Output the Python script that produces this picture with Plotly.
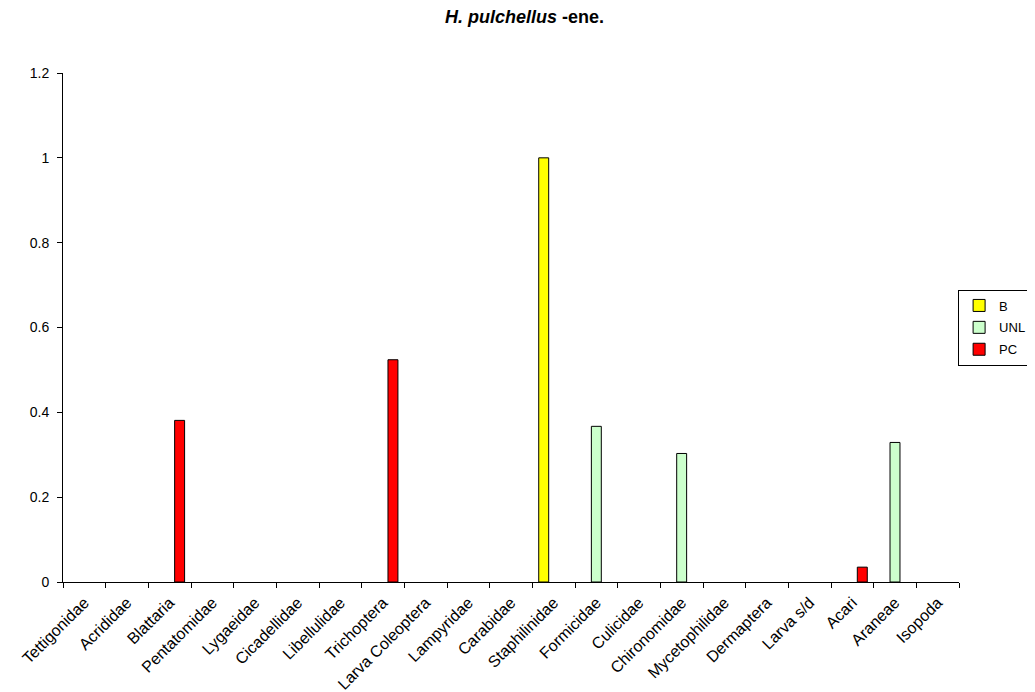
import plotly.graph_objects as go

categories = ["Tettigonidae", "Acrididae", "Blattaria", "Pentatomidae", "Lygaeidae",
              "Cicadellidae", "Libellulidae", "Trichoptera", "Larva Coleoptera", "Lampyridae",
              "Carabidae", "Staphilinidae", "Formicidae", "Culicidae", "Chironomidae",
              "Mycetophilidae", "Dermaptera", "Larva s/d", "Acari", "Araneae", "Isopoda"]

b_values = [0, 0, 0, 0, 0, 0, 0, 0, 0, 0, 0, 1.0, 0, 0, 0, 0, 0, 0, 0, 0, 0]
unl_values = [0, 0, 0, 0, 0, 0, 0, 0, 0, 0, 0, 0, 0.367, 0, 0.303, 0, 0, 0, 0, 0.329, 0]
pc_values = [0, 0, 0.381, 0, 0, 0, 0, 0.524, 0, 0, 0, 0, 0, 0, 0, 0, 0, 0, 0.035, 0, 0]

y_ticks = [0, 0.2, 0.4, 0.6, 0.8, 1, 1.2]

FONT = "Arial, Liberation Sans, sans-serif"

fig = go.Figure()
series = [("B", b_values, "#FFFF00"), ("UNL", unl_values, "#CCFFCC"), ("PC", pc_values, "#FF0000")]
for name, vals, col in series:
    yvals = [v if v else None for v in vals]  # zero-height bars are not drawn
    fig.add_trace(go.Bar(x=categories, y=yvals, name=name, legendgroup=name,
                         marker=dict(color=col, line=dict(color="black", width=1))))

# page has an 8px body margin; figure sized/margined to compensate
fig.update_layout(
    width=1027, height=684,
    barmode="group", bargap=0.3, bargroupgap=0,
    paper_bgcolor="white", plot_bgcolor="white",
    font=dict(family=FONT, size=13, color="black"),
    margin=dict(l=55, r=76, t=65, b=110, autoexpand=False),
    title=dict(text="<b><i>H. pulchellus</i> -ene.</b>", x=0.503, xanchor="center",
               y=1 - 9 / 684, yanchor="middle", yref="container",
               font=dict(family=FONT, size=18, color="black")),
    legend=dict(x=0.999, xanchor="left", y=0.5, yanchor="middle",
                bgcolor="white", bordercolor="black", borderwidth=1,
                font=dict(family=FONT, size=13, color="black"),
                itemwidth=30, traceorder="grouped", tracegroupgap=2),
    xaxis=dict(type="category", tickangle=-45, showgrid=False,
               showline=True, linecolor="black", linewidth=1,
               ticks="outside", tickson="boundaries", ticklen=5, tickcolor="black",
               ticklabelstandoff=4,
               tickfont=dict(family=FONT, size=16, color="black")),
    yaxis=dict(range=[0, 1.2], tickvals=y_ticks, showgrid=False, zeroline=False,
               showline=True, linecolor="black", linewidth=1,
               ticks="outside", ticklen=5, tickcolor="black",
               ticklabelstandoff=5,
               tickfont=dict(family=FONT, size=14, color="black")),
)

fig.write_html("out.html")
